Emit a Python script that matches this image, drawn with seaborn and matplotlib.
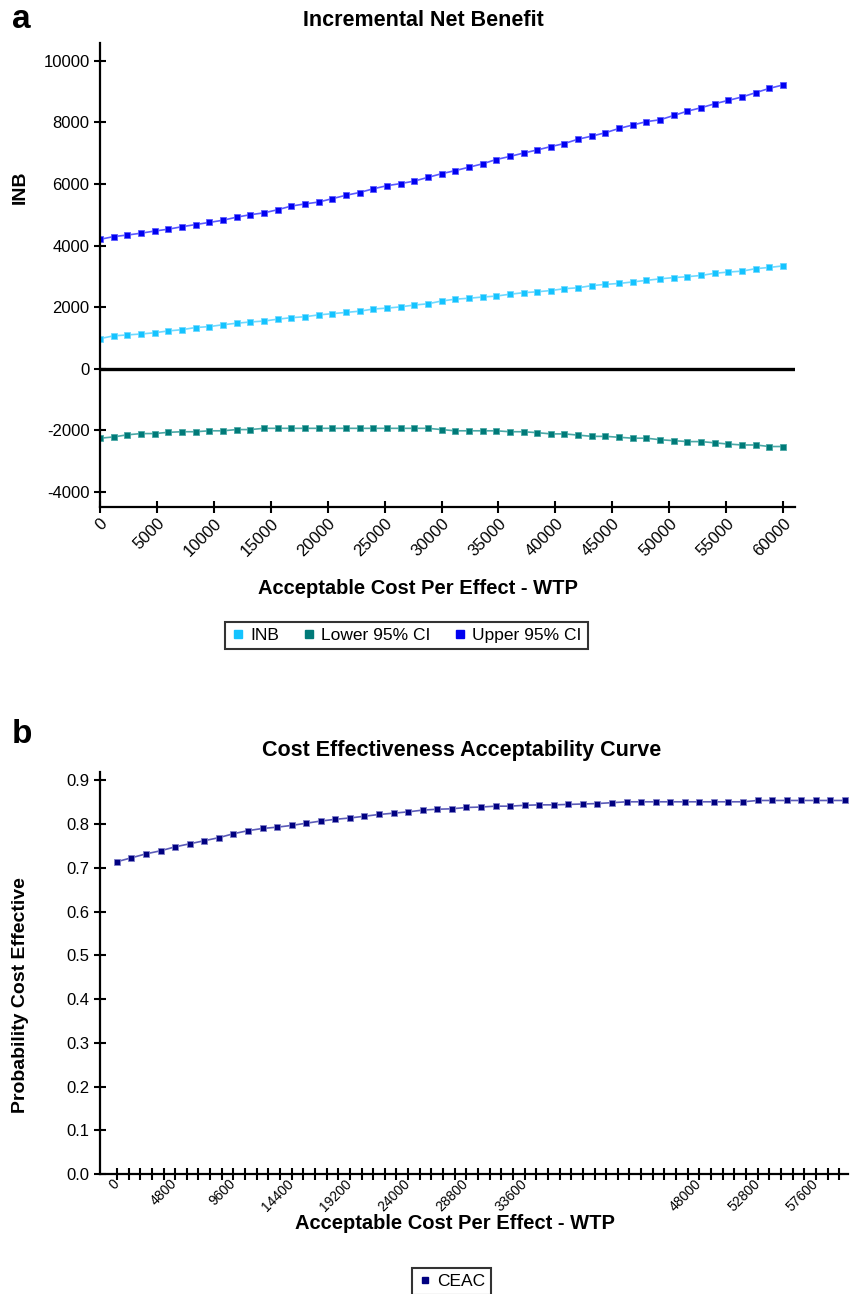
import numpy as np
import pandas as pd
import matplotlib
matplotlib.use('Agg')
import matplotlib.pyplot as plt
from matplotlib.lines import Line2D
import seaborn as sns

# WTP grid (markers every 1200)
wtp = np.arange(0, 60001, 1200)

inb = [980, 1070, 1100, 1130, 1170, 1230, 1270, 1340, 1370, 1430,
       1480, 1520, 1550, 1610, 1660, 1690, 1750, 1790, 1830, 1870,
       1940, 1970, 2010, 2070, 2110, 2200, 2260, 2290, 2330, 2360,
       2420, 2470, 2500, 2540, 2600, 2630, 2700, 2740, 2770, 2820,
       2870, 2920, 2960, 2990, 3030, 3100, 3140, 3170, 3250, 3290,
       3340]
lower_ci = [-2250, -2210, -2140, -2100, -2100, -2060, -2040, -2040, -2010, -2010,
            -1970, -1970, -1930, -1930, -1930, -1930, -1930, -1930, -1930, -1930,
            -1930, -1930, -1930, -1930, -1930, -1970, -2010, -2010, -2010, -2010,
            -2040, -2040, -2070, -2110, -2110, -2150, -2190, -2190, -2220, -2250,
            -2250, -2300, -2330, -2360, -2360, -2400, -2440, -2470, -2470, -2520,
            -2520]
upper_ci = [4200, 4290, 4340, 4400, 4470, 4530, 4610, 4680, 4750, 4820,
            4920, 5000, 5060, 5160, 5280, 5350, 5410, 5520, 5630, 5720,
            5840, 5940, 6010, 6090, 6210, 6330, 6430, 6540, 6650, 6790,
            6890, 7000, 7100, 7210, 7310, 7450, 7550, 7660, 7800, 7910,
            8020, 8080, 8220, 8360, 8470, 8600, 8710, 8820, 8960, 9100,
            9210]
ceac = [0.714, 0.723, 0.732, 0.739, 0.748, 0.755, 0.762, 0.769, 0.778, 0.785,
        0.790, 0.793, 0.797, 0.802, 0.807, 0.811, 0.814, 0.818, 0.822, 0.825,
        0.828, 0.832, 0.834, 0.835, 0.838, 0.839, 0.841, 0.841, 0.843, 0.844,
        0.844, 0.845, 0.846, 0.847, 0.849, 0.851, 0.851, 0.851, 0.851, 0.851,
        0.851, 0.851, 0.851, 0.851, 0.854, 0.854, 0.854, 0.854, 0.854, 0.854,
        0.854]

series_names = ['INB', 'Lower 95% CI', 'Upper 95% CI']
series_colors = ['#14c3ff', '#007a78', '#0000f0']
line_colors = ['#6fd9ff', '#4aa8a6', '#5a5aff']

top_xticks = [0, 5000, 10000, 15000, 20000, 25000, 30000, 35000, 40000, 45000, 50000, 55000, 60000]
top_yticks = [-4000, -2000, 0, 2000, 4000, 6000, 8000, 10000]
bot_label_ticks = ['0', '4800', '9600', '14400', '19200', '24000', '28800', '33600',
                   '', '', '48000', '52800', '57600']
bot_yticks = [0.0, 0.1, 0.2, 0.3, 0.4, 0.5, 0.6, 0.7, 0.8, 0.9]

df = pd.DataFrame({'WTP': np.tile(wtp, 3),
                   'value': inb + lower_ci + upper_ci,
                   'series': np.repeat(series_names, len(wtp))})
df_ceac = pd.DataFrame({'WTP': wtp, 'CEAC': ceac})

sns.set_style('ticks')
plt.rcParams['font.family'] = ['Liberation Sans', 'DejaVu Sans']
plt.rcParams['text.color'] = 'black'
plt.rcParams['axes.labelcolor'] = 'black'
plt.rcParams['axes.edgecolor'] = 'black'
plt.rcParams['axes.linewidth'] = 1.6
for a in ['x', 'y']:
    plt.rcParams[a + 'tick.direction'] = 'inout'
    plt.rcParams[a + 'tick.major.size'] = 8
    plt.rcParams[a + 'tick.major.width'] = 1.5
    plt.rcParams[a + 'tick.color'] = 'black'
    plt.rcParams[a + 'tick.labelcolor'] = 'black'
    plt.rcParams[a + 'tick.labelsize'] = 12

fig = plt.figure(figsize=(8.54, 12.94), dpi=100)

# ---- panel a ----
ax1 = fig.add_axes([0.117, 0.608, 0.814, 0.359])
for name, c, lc in zip(series_names, series_colors, line_colors):
    sub = df[df['series'] == name]
    sns.lineplot(data=sub, x='WTP', y='value', ax=ax1, color=lc, lw=1.2,
                 marker='s', markersize=5, markerfacecolor=c,
                 markeredgecolor=lc, markeredgewidth=0.6, legend=False)
ax1.axhline(0, color='black', lw=2.4, zorder=5)
ax1.set_xlim(0, 61050)
ax1.set_ylim(-4490, 10580)
ax1.set_xticks(top_xticks)
ax1.set_xticklabels([str(t) for t in top_xticks], rotation=45, ha='right',
                    rotation_mode='anchor')
ax1.tick_params(axis='x', pad=2)
ax1.set_yticks(top_yticks)
ax1.set_yticklabels([str(t) for t in top_yticks])
ax1.set_xlabel('')
ax1.set_ylabel('')
sns.despine(ax=ax1)

handles = [Line2D([], [], ls='none', marker='s', markersize=6, color=c) for c in series_colors]
leg = fig.legend(handles, series_names, loc='center', bbox_to_anchor=(0.476, 0.509),
                 ncol=3, fontsize=12.5, frameon=True, fancybox=False,
                 handletextpad=0.3, columnspacing=1.3, handlelength=0.8,
                 borderpad=0.35)
leg.get_frame().set_edgecolor('black')
leg.get_frame().set_linewidth(1.5)

fig.text(0.014, 0.985, 'a', fontsize=24, fontweight='bold', va='center')
fig.text(0.496, 0.984, 'Incremental Net Benefit', fontsize=15.5, fontweight='bold',
         ha='center', va='center')
fig.text(0.024, 0.855, 'INB', fontsize=14, fontweight='bold', rotation=90,
         ha='center', va='center')
fig.text(0.489, 0.545, 'Acceptable Cost Per Effect - WTP', fontsize=14.5,
         fontweight='bold', ha='center', va='center')

# ---- panel b ----
ax2 = fig.add_axes([0.117, 0.0927, 0.876, 0.311])
sns.lineplot(data=df_ceac, x='WTP', y='CEAC', ax=ax2, color='#5c5cb8', lw=1.2,
             marker='s', markersize=5, markerfacecolor='#000080',
             markeredgecolor='#8080c8', markeredgewidth=0.6, legend=False)
ax2.set_xlim(-1400, 60250)
ax2.set_ylim(0, 0.92)
bot_ticks = np.arange(0, 60300, 960)
ax2.set_xticks(bot_ticks)
ax2.set_xticklabels([bot_label_ticks[i // 5] if i % 5 == 0 else ''
                     for i in range(len(bot_ticks))],
                    rotation=45, ha='right', va='center', rotation_mode='anchor')
ax2.tick_params(axis='x', labelsize=10, pad=1.5)
ax2.set_yticks(bot_yticks)
ax2.set_yticklabels(['%.1f' % t for t in bot_yticks])
ax2.set_xlabel('')
ax2.set_ylabel('')
sns.despine(ax=ax2)

h2 = [Line2D([], [], ls='none', marker='s', markersize=5, color='#000080')]
leg2 = fig.legend(h2, ['CEAC'], loc='center', bbox_to_anchor=(0.529, 0.0095),
                  fontsize=12.5, frameon=True, fancybox=False, handletextpad=0.3,
                  handlelength=0.8, borderpad=0.35)
leg2.get_frame().set_edgecolor('black')
leg2.get_frame().set_linewidth(1.5)

fig.text(0.014, 0.432, 'b', fontsize=24, fontweight='bold', va='center')
fig.text(0.541, 0.420, 'Cost Effectiveness Acceptability Curve', fontsize=15.5,
         fontweight='bold', ha='center', va='center')
fig.text(0.024, 0.231, 'Probability Cost Effective', fontsize=14, fontweight='bold',
         rotation=90, ha='center', va='center')
fig.text(0.533, 0.0545, 'Acceptable Cost Per Effect - WTP', fontsize=14.5,
         fontweight='bold', ha='center', va='center')

fig.savefig('out.png', dpi=100)
